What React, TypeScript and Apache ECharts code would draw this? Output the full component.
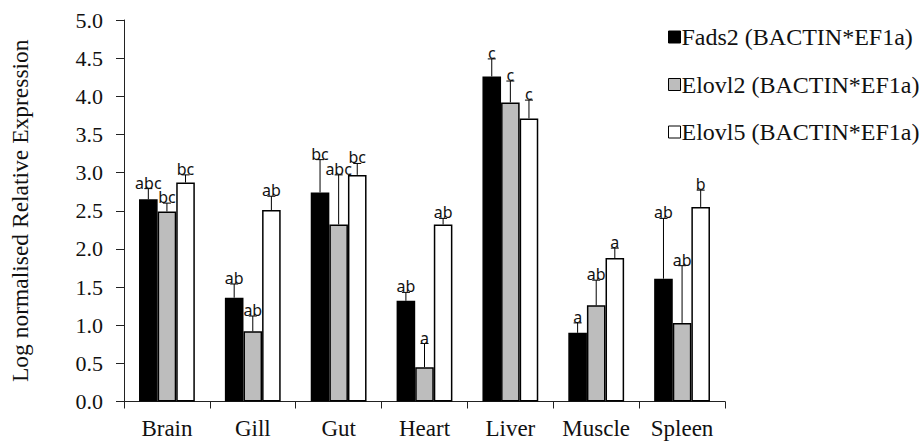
import React, { useEffect, useRef } from "react";
import * as echarts from "echarts";

const categories = ["Brain", "Gill", "Gut", "Heart", "Liver", "Muscle", "Spleen"];
const seriesNames = ["Fads2 (BACTIN*EF1a)", "Elovl2 (BACTIN*EF1a)", "Elovl5 (BACTIN*EF1a)"];
const fads2 = [2.65, 1.36, 2.74, 1.32, 4.26, 0.9, 1.61];
const elovl2 = [2.49, 0.92, 2.32, 0.45, 3.92, 1.26, 1.03];
const elovl5 = [2.87, 2.51, 2.97, 2.32, 3.71, 1.88, 2.55];
const fads2Err = [2.79, 1.54, 3.17, 1.43, 4.49, 1.03, 2.4];
const elovl2Err = [2.6, 1.12, 2.97, 0.76, 4.2, 1.59, 1.78];
const elovl5Err = [2.97, 2.69, 3.12, 2.4, 3.95, 2.01, 2.77];
const fads2Letters = ["abc", "ab", "bc", "ab", "c", "a", "ab"];
const elovl2Letters = ["bc", "ab", "abc", "a", "c", "ab", "ab"];
const elovl5Letters = ["bc", "ab", "bc", "ab", "c", "a", "b"];
const yTicks = [0, 5, 0.5];

const colors = ["#000000", "#bdbdbd", "#ffffff"];
const values = [fads2, elovl2, elovl5];
const errs = [fads2Err, elovl2Err, elovl5Err];
const letters = [fads2Letters, elovl2Letters, elovl5Letters];

const SERIF = "'Liberation Serif', 'Times New Roman', serif";

export default function App() {
  const ref = useRef<HTMLDivElement>(null);
  useEffect(() => {
    if (!ref.current) return;
    const chart = echarts.init(ref.current, undefined, { renderer: "svg" });
    const barSeries = values.map((vals, s) => ({
      name: seriesNames[s],
      type: "bar",
      data: vals,
      barGap: "0%",
      barCategoryGap: "35%",
      itemStyle: { color: colors[s], borderColor: "#000", borderWidth: 1.5 },
    }));
    const errSeries = values.map((vals, s) => ({
      type: "custom",
      data: vals.map((v, i) => [i, v, errs[s][i]]),
      z: 5,
      renderItem: (params: any, api: any) => {
        const idx = api.value(0);
        const val = api.value(1);
        const err = api.value(2);
        const band = api.size([1, 0])[0];
        const w = (band * 0.65) / 3;
        const base = api.coord([idx, val]);
        const top = api.coord([idx, err]);
        const x = base[0] + (s - 1) * w;
        return {
          type: "group",
          children: [
            { type: "line", shape: { x1: x, y1: base[1], x2: x, y2: top[1] }, style: { stroke: "#000", lineWidth: 1 } },
            { type: "line", shape: { x1: x - 4, y1: top[1], x2: x + 4, y2: top[1] }, style: { stroke: "#000", lineWidth: 1 } },
            {
              type: "text",
              x,
              y: top[1] + 2,
              style: {
                text: letters[s][params.dataIndex],
                align: "center",
                verticalAlign: "bottom",
                fontSize: 16,
                fontFamily: "'Noto Sans', sans-serif",
                fill: "#111",
              },
            },
          ],
        };
      },
    }));
    chart.setOption({
      animation: false,
      backgroundColor: "#fff",
      grid: { left: 123, right: 196, top: 20, bottom: 39.5, containLabel: false },
      legend: {
        orient: "vertical",
        left: 663,
        top: 20,
        itemWidth: 12,
        itemHeight: 12,
        itemGap: 23.5,
        icon: "rect",
        textStyle: { fontFamily: SERIF, fontSize: 24, color: "#111", lineHeight: 24, padding: [0, 0, 0, -4] },
        itemStyle: { borderColor: "#000", borderWidth: 1 },
        data: seriesNames,
      },
      xAxis: {
        type: "category",
        data: categories,
        axisLine: { lineStyle: { color: "#222", width: 1 } },
        axisTick: { show: true, length: 7, interval: 0, lineStyle: { color: "#222" } },
        axisLabel: { fontFamily: SERIF, fontSize: 23, color: "#111", margin: 15, interval: 0 },
      },
      yAxis: {
        type: "value",
        min: yTicks[0],
        max: yTicks[1],
        interval: yTicks[2],
        name: "Log normalised Relative Expression",
        nameLocation: "middle",
        nameRotate: 90,
        nameGap: 80,
        nameTextStyle: { fontFamily: SERIF, fontSize: 23.5, color: "#111", padding: [0, 0, 12, 0] },
        splitLine: { show: false },
        axisLine: { show: true, lineStyle: { color: "#222", width: 1 } },
        axisTick: { show: true, length: 8, lineStyle: { color: "#222" } },
        axisLabel: {
          fontFamily: SERIF,
          fontSize: 22,
          color: "#111",
          margin: 21,
          formatter: (v: number) => v.toFixed(1),
        },
      },
      series: [...barSeries, ...errSeries],
    });
    return () => chart.dispose();
  }, []);
  return <div ref={ref} style={{ width: 921, height: 441, position: "absolute", left: 0, top: 0 }} />;
}
